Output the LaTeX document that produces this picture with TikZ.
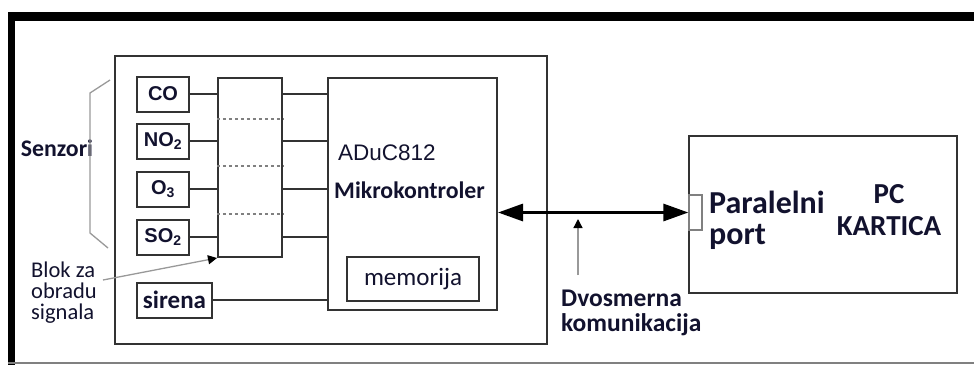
\documentclass[tikz,border=0pt]{standalone}
\usepackage{fontspec}
\setmainfont{Carlito}
\newfontfamily\arialf{Liberation Sans}
\usetikzlibrary{arrows.meta}
\definecolor{txt}{rgb}{0.07,0.07,0.18}
\definecolor{ln}{rgb}{0.2,0.2,0.2}
\newcommand{\fs}[1]{\fontsize{#1bp}{#1bp}\selectfont}
\begin{document}
\begin{tikzpicture}[x=1bp,y=-1bp,
  blk/.style={draw=ln,line width=2bp,rectangle,inner sep=0pt},
  sens/.style={blk,minimum width=52bp,minimum height=35bp,font=\arialf\bfseries\fs{20},text=txt},
  wire/.style={draw=ln,line width=1.8bp},
  lbl/.style={text=txt,inner sep=0pt},
  pointer/.style={draw=gray!80,line width=1.3bp,-{Triangle[length=9bp,width=9bp,color=black]}}
]
\useasboundingbox (0,0) rectangle (974,365);
% outer frame
\fill[black] (8,12) rectangle (974,21);
\fill[black] (8,12) rectangle (15,365);
\draw[gray,line width=1.5bp] (8,363) -- (974,363);
% device box
\node[blk,minimum width=432bp,minimum height=288bp] (dev) at (331,200) {};
% sensors
\node[sens] (co) at (163,94) {CO};
\node[sens] (no) at (163,141) {NO\textsubscript{2}};
\node[sens] (oo) at (163,189) {O\textsubscript{3}};
\node[sens] (so) at (163,237) {SO\textsubscript{2}};
\node[blk,minimum width=75bp,minimum height=35bp,font=\bfseries\fs{25},text=txt] (sir) at (174.5,300) {sirena};
% signal block
\node[blk,minimum width=64bp,minimum height=179bp] (sig) at (250,167.5) {};
\foreach \yy in {119,166,214}
  \draw[gray,dashed,line width=1.3bp] (sig.west |- 0,\yy) -- (sig.east |- 0,\yy);
% MCU
\node[blk,minimum width=169bp,minimum height=232bp] (mcu) at (412.5,194) {};
\node[blk,minimum width=132bp,minimum height=44bp,font=\fs{25},text=txt] (mem) at (413,279) {memorija};
\node[lbl,anchor=west,font=\arialf\fs{22.5}] (adu) at (338,153) {ADuC812};
\node[lbl,anchor=west,font=\bfseries\fs{23.8}] (mk) at (334,190) {Mikrokontroler};
% wires
\foreach \s in {co,no,oo,so}{
  \draw[wire] (\s.east) -- (\s.east -| sig.west);
  \draw[wire] (\s.east -| sig.east) -- (\s.east -| mcu.west);
}
\draw[wire] (sir.east) -- (sir.east -| mcu.west);
% Senzori
\node[lbl,font=\bfseries\fs{23.8}] (sen) at (57,148) {Senzori};
\draw[gray!80,line width=1.3bp] (110,80) -- (90,93) -- (90,233) -- (108,248);
% Blok za obradu signala
\node[lbl,anchor=west,align=left,font=\fs{22.5}] (blok) at (31,293) {Blok za\\[-1.5bp]obradu\\[-1.5bp]signala};
\coordinate (bstart) at (103,280);
\draw[pointer] (bstart) -- (sig.south west);
% PC
\node[blk,minimum width=268bp,minimum height=157bp] (pc) at (823,214.5) {};
\node[draw=gray,line width=1.3bp,fill=white,minimum width=13bp,minimum height=35bp,inner sep=0pt] (port) at (695.5,212.5) {};
\node[lbl,anchor=west,align=left,font=\bfseries\fs{32}] (par) at (709,220) {Paralelni\\[-1bp]port};
\node[lbl,align=center,font=\bfseries\fs{29}] (pck) at (889,210) {PC\\[3bp]KARTICA};
% bidirectional arrow
\draw[line width=3bp,{Triangle[length=25bp,width=17bp]}-{Triangle[length=25bp,width=17bp]}] (port.west -| mcu.east) -- (port.west);
% Dvosmerna komunikacija
\node[lbl,anchor=west,align=left,font=\bfseries\fs{25.5}] (dvo) at (561,313) {Dvosmerna\\[-1bp]komunikacija};
\coordinate (dstart) at (578,275);
\draw[pointer] (dstart) -- (578,219);
\end{tikzpicture}
\end{document}
